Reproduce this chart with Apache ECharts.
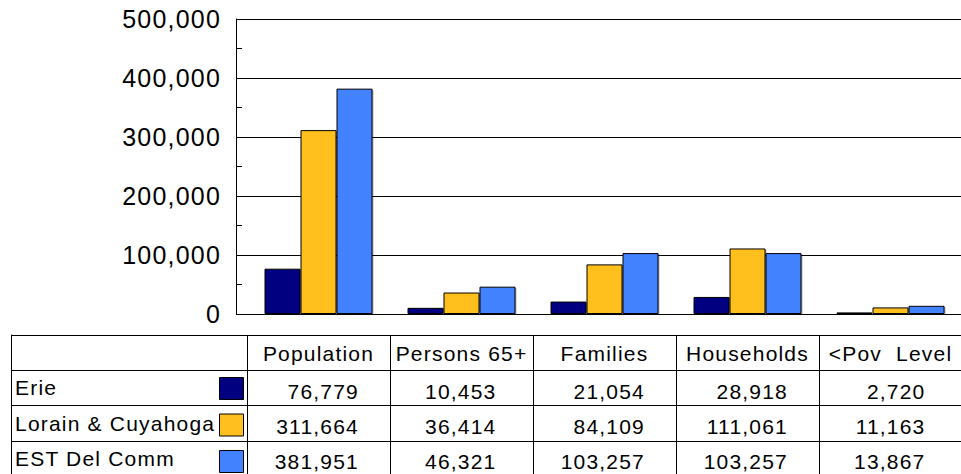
<!DOCTYPE html>
<html>
<head>
<meta charset="UTF-8">
<title></title>
<style>
html, body { margin: 0; padding: 0; background: #fff; }
#myChart { width: 961px; height: 474px; }
#myChart text { letter-spacing: 1.2px; white-space: pre; }
</style>
</head>
<body>
<div id="myChart"></div>
<script src="https://cdn.jsdelivr.net/npm/echarts@6/dist/echarts.min.js"></script>
<script>
var categories = ['Population', 'Persons 65+', 'Families', 'Households', '<Pov  Level'];
var seriesNames = ['Erie', 'Lorain & Cuyahoga', 'EST Del Comm'];
var erieValues = [76779, 10453, 21054, 28918, 2720];
var lorainValues = [311664, 36414, 84109, 111061, 11163];
var estValues = [381951, 46321, 103257, 103257, 13867];
var seriesColors = ['#000080', '#ffbf1f', '#4282ff'];
var yMin = 0, yMax = 500000, yStep = 100000;

var FONT = '"Liberation Sans", Arial, sans-serif';
var rows = [erieValues, lorainValues, estValues];

function fmt(v) {
	return Number(v).toLocaleString('en-US');
}

// each column of numbers is right aligned inside a block centred in the cell
var richCols = {};
for (var c = 0; c < categories.length; c++) {
	var maxLen = 0;
	for (var r = 0; r < rows.length; r++) {
		maxLen = Math.max(maxLen, fmt(rows[r][c]).length);
	}
	richCols['c' + c] = {
		width: Math.round(maxLen * 11.6),
		align: 'right',
		fontSize: 21,
		fontFamily: FONT,
		color: '#000'
	};
}

function rowAxis(values, offset) {
	return {
		type: 'category',
		gridIndex: 0,
		position: 'bottom',
		offset: offset,
		data: categories,
		axisLine: { show: false },
		axisTick: { show: false },
		splitLine: { show: false },
		axisLabel: {
			interval: 0,
			margin: 20,
			verticalAlign: 'middle',
			formatter: function(val, idx) {
				return '{c' + idx + '|' + fmt(values[idx]) + '}';
			},
			rich: richCols
		}
	};
}

var myChart = echarts.init(document.getElementById('myChart'), null, { renderer: 'svg' });

var series = [];
for (var i = 0; i < seriesNames.length; i++) {
	series.push({
		name: seriesNames[i],
		type: 'bar',
		xAxisIndex: 0,
		yAxisIndex: 0,
		barWidth: 36,
		barGap: '0%',
		data: rows[i],
		itemStyle: {
			color: seriesColors[i],
			borderColor: '#000',
			borderWidth: 1,
			shadowColor: 'rgba(0,0,0,0.3)',
			shadowOffsetX: 1,
			shadowOffsetY: 1
		}
	});
}

var options = {
	animation: false,
	backgroundColor: '#fff',
	textStyle: { fontFamily: FONT, color: '#000' },
	grid: [{
		left: 247, top: 19, width: 715, height: 295,
		outerBoundsMode: 'none'
	}, {
		left: 11, top: 335, width: 951, height: 141,
		outerBoundsMode: 'none'
	}],
	legend: {
		data: seriesNames,
		orient: 'vertical',
		left: 219,
		top: 377,
		padding: 0,
		itemWidth: 24,
		itemHeight: 22,
		itemGap: 13.5,
		icon: 'rect',
		selectedMode: false,
		formatter: function() { return ''; },
		itemStyle: { borderColor: '#000', borderWidth: 1 }
	},
	xAxis: [{
		type: 'category',
		gridIndex: 0,
		data: categories,
		axisLine: { show: true, lineStyle: { color: '#000' } },
		axisTick: { show: false },
		axisLabel: { show: false }
	}, {
		// header row of the data table, ticks make the column rules
		type: 'category',
		gridIndex: 0,
		position: 'bottom',
		offset: 21,
		data: categories,
		axisLine: { show: false },
		axisTick: { show: true, interval: 0, alignWithLabel: false, length: 141, lineStyle: { color: '#000' } },
		axisLabel: { interval: 0, margin: 18, verticalAlign: 'middle', fontSize: 21, color: '#000', fontFamily: FONT }
	},
		rowAxis(erieValues, 57),
		rowAxis(lorainValues, 92),
		rowAxis(estValues, 127),
	{
		type: 'value',
		gridIndex: 1,
		show: false
	}],
	yAxis: [{
		type: 'value',
		gridIndex: 0,
		min: yMin,
		max: yMax,
		interval: yStep,
		offset: 11,
		axisLine: { show: true, lineStyle: { color: '#000' } },
		axisTick: { show: true, inside: true, length: 11, lineStyle: { color: '#000' } },
		minorTick: { show: true, splitNumber: 2, length: 6, lineStyle: { color: '#000' } },
		splitLine: { show: true, lineStyle: { color: '#000' } },
		axisLabel: { fontSize: 25, margin: 15, color: '#000', fontFamily: FONT, formatter: fmt }
	}, {
		// left part of the data table: series names and row rules
		type: 'category',
		gridIndex: 1,
		inverse: true,
		data: [''].concat(seriesNames),
		axisLine: { show: true, lineStyle: { color: '#000' } },
		axisTick: { show: false },
		splitLine: { show: true, interval: 0, lineStyle: { color: '#000' } },
		axisLabel: { inside: true, margin: 4, interval: 0, fontSize: 21, color: '#000', fontFamily: FONT, verticalAlign: 'middle', padding: [4, 0, 0, 0] }
	}],
	series: series
};

myChart.setOption(options);
</script>
</body>
</html>
